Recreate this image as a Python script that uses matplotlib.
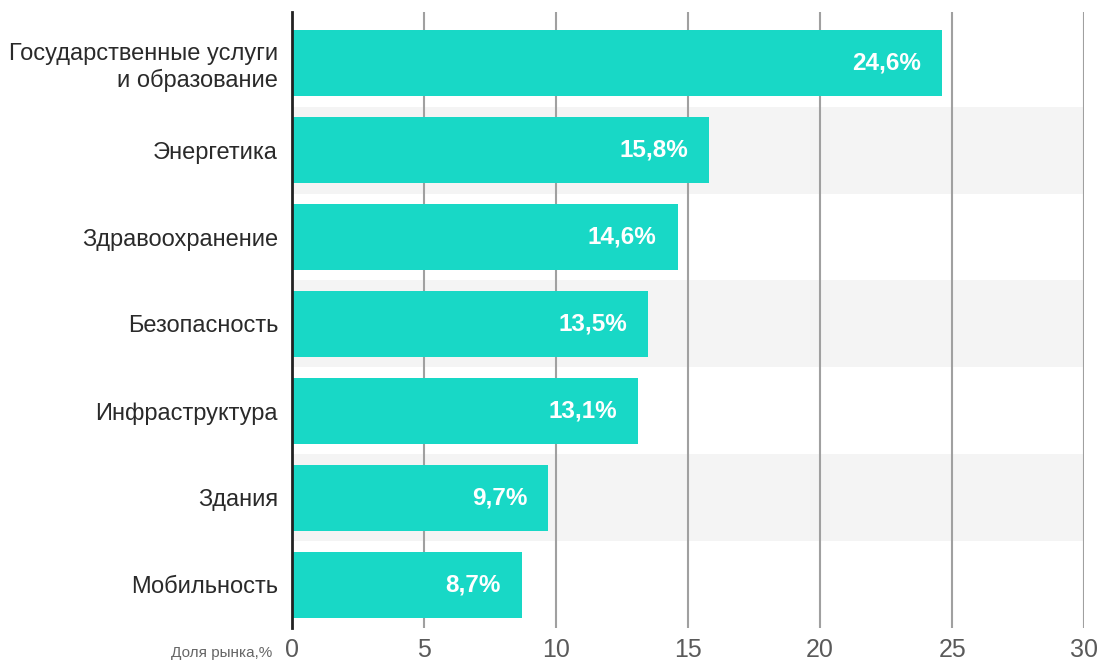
import matplotlib.pyplot as plt
import matplotlib as mpl

categories = [
    "Государственные услуги\nи образование",
    "Энергетика",
    "Здравоохранение",
    "Безопасность",
    "Инфраструктура",
    "Здания",
    "Мобильность",
]
shares = [24.6, 15.8, 14.6, 13.5, 13.1, 9.7, 8.7]
value_labels = ["24,6%", "15,8%", "14,6%", "13,5%", "13,1%", "9,7%", "8,7%"]
x_ticks = [0, 5, 10, 15, 20, 25, 30]

BAR_COLOR = "#18d8c6"
BAND_COLOR = "#f4f4f4"

mpl.rcParams["font.family"] = ["Liberation Sans", "DejaVu Sans"]

fig = plt.figure(figsize=(11.03, 6.65), dpi=100)
ax = fig.add_axes([0.2647, 0.0556, 0.983 - 0.2647, 0.982 - 0.0556])

ypos = list(range(len(categories)))

# чередующиеся серые полосы
for i in ypos:
    if i % 2 == 1:
        ax.axhspan(i - 0.5, i + 0.5, color=BAND_COLOR, zorder=0, lw=0)

for t in x_ticks[1:]:
    ax.axvline(t, color="#a0a0a0", lw=1.5, zorder=1)

ax.barh(ypos, shares, height=0.76, color=BAR_COLOR, zorder=2)

for y, v, lab in zip(ypos, shares, value_labels):
    ax.annotate(lab, xy=(v, y), xytext=(-15, 0), textcoords="offset points",
                ha="right", va="center", color="white", fontsize=17.5,
                fontweight="bold", zorder=3)

ax.set_xlim(0, 30)
ax.set_ylim(6.5, -0.59)
ax.set_yticks(ypos)
ax.set_yticklabels(categories, fontsize=17, color="#2a2a2a")
ax.set_xticks(x_ticks)
ax.set_xticklabels([str(t) for t in x_ticks], fontsize=18, color="#5a5a5a")
ax.tick_params(axis="y", length=0, pad=10)
ax.tick_params(axis="x", length=0, pad=7)

for s in ["top", "right", "bottom"]:
    ax.spines[s].set_visible(False)
ax.spines["left"].set_color("#222222")
ax.spines["left"].set_linewidth(2)
ax.spines["left"].set_zorder(4)

fig.text(272 / 1103, 1 - 653 / 665, "Доля рынка,%", ha="right", va="center",
         fontsize=11, color="#666666")

fig.savefig("out.png", dpi=100, facecolor="white")
